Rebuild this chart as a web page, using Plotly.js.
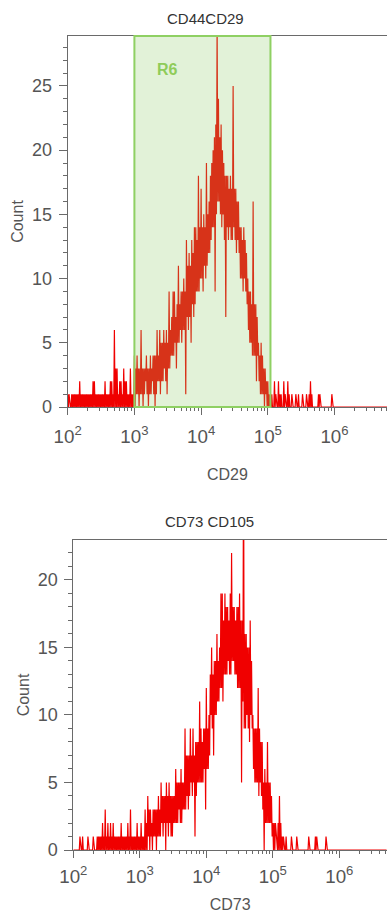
<!DOCTYPE html>
<html>
<head>
<meta charset="utf-8">
<script src="https://cdn.plot.ly/plotly-3.0.1.min.js"></script>
<style>
  html, body { margin: 0; padding: 0; background: #ffffff; }
  #chart { width: 387px; height: 913px; }
</style>
</head>
<body>
<div id="chart"></div>
<script>
// ---- channel grid (log10 decades) ----
const LOG_START = 2.0;      // first channel at 10^2
const LOG_STEP = 0.02;      // decades per channel

// ---- CD29 histogram (top panel): highest / lowest count seen in each channel ----
const cd29Max = [
  1,1,0,1,1,1,1,1,1,2,   1,1,1,1,1,1,1,1,1,2,   2,1,1,1,1,1,1,1,2,1,   1,1,2,2,1,6,3,3,1,2,
  2,1,3,2,2,1,1,3,1,1,   4,3,4,3,3,6,3,3,3,4,   3,3,4,3,4,4,4,6,4,6,   5,5,6,5,6,5,9,6,7,9,
  9,7,8,11,8,9,9,10,9,13, 11,12,11,13,12,14,14,13,18,14, 17,14,15,14,19,15,16,18,19,20,
  21,22,30,24,21,22,20,19,18,18, 18,17,18,17,25,17,17,16,16,14, 14,13,14,13,12,10,9,9,8,16,
  8,8,7,5,4,5,4,3,3,2,   2,1,1,1,0,2,1,0,2,1,   1,0,2,1,0,2,1,0,1,0,   0,1,0,1,0,0,1,0,0,1,
  0,1,2,1,0,0,0,0,1,1,   0,0,0,0,0,0,0,0,1,0,   0,0,0,0,0,0,0,0,0,0,   0,0,0,0,0,0,0,0,0,0,
  0,0,0,0,0,0,0,0,0,0,   0,0,0,0,0,0,0,0,0,0
];
const cd29Min = [
  0,0,0,0,0,0,0,0,0,0,   0,0,0,0,0,0,0,0,0,0,   0,0,0,0,0,0,0,0,0,0,   0,0,0,0,0,0,0,0,0,0,
  0,0,0,0,0,0,0,0,0,0,   0,1,1,0,1,1,0,1,2,1,   0,1,1,2,1,0,1,2,2,1,   2,2,3,2,1,3,3,4,4,4,
  5,3,5,5,6,5,6,6,1,7,   6,7,5,8,7,8,9,9,9,10,  10,9,11,10,11,12,12,13,14,14,
  9,15,16,16,15,14,15,13,7,14, 13,14,13,13,14,13,12,13,12,10, 10,9,10,9,8,6,5,5,4,4,
  4,2,4,2,1,1,1,0,1,0,   0,0,0,0,0,0,0,0,0,0,   0,0,0,0,0,0,0,0,0,0,   0,0,0,0,0,0,0,0,0,0,
  0,0,0,0,0,0,0,0,0,0,   0,0,0,0,0,0,0,0,0,0,   0,0,0,0,0,0,0,0,0,0,   0,0,0,0,0,0,0,0,0,0,
  0,0,0,0,0,0,0,0,0,0,   0,0,0,0,0,0,0,0,0,0
];

// ---- CD73 histogram (bottom panel): highest / lowest count seen in each channel ----
const cd73Max = [
  0,0,0,0,0,1,0,1,0,0,   0,1,0,0,0,1,0,0,1,1,   1,1,2,1,3,1,2,1,2,1,   2,1,1,1,1,1,2,1,1,1,
  1,2,1,3,1,1,1,1,2,1,   1,2,1,1,3,2,4,3,3,2,   3,3,3,3,4,3,5,4,4,4,   5,4,5,4,4,4,4,6,5,5,
  5,6,5,5,9,7,7,7,9,7,   9,7,8,8,8,11,9,8,9,9,  12,9,10,13,15,13,14,14,16,14,
  15,19,19,17,19,18,18,17,19,22, 18,18,17,18,18,19,17,17,30,16, 16,15,15,17,14,10,9,9,9,12,
  9,8,8,5,6,5,8,5,5,4,   2,2,2,1,2,4,2,1,1,0,   1,0,0,0,1,0,0,0,1,0,   0,0,0,0,0,0,0,1,0,0,
  0,0,1,1,0,0,0,0,0,0,   1,0,0,0,0,0,0,0,0,0,   0,0,0,0,0,0,0,0,0,0,   0,0,0,0,0,0,0,0,0,0,
  0,0,0,0,0,0,0,0,0,0,   0,0,0,0,0,0
];
const cd73Min = [
  0,0,0,0,0,0,0,0,0,0,   0,0,0,0,0,0,0,0,0,0,   0,0,0,0,0,0,0,0,0,0,   0,0,0,0,0,0,0,0,0,0,
  0,0,0,0,0,0,0,0,0,0,   0,0,0,0,0,0,1,0,1,0,   1,1,0,1,1,1,2,1,2,0,   2,1,2,1,1,2,2,2,2,3,
  2,2,3,3,3,4,3,4,5,4,   5,1,4,5,5,5,5,5,6,3,   6,6,7,10,9,7,10,10,11,11,
  12,12,11,13,13,13,14,13,13,14, 14,13,13,12,12,12,5,11,9,9, 10,9,8,10,9,6,5,5,5,4,
  5,4,3,0,2,2,2,2,2,1,   0,0,1,0,0,0,0,0,0,0,   0,0,0,0,0,0,0,0,0,0,   0,0,0,0,0,0,0,0,0,0,
  0,0,0,0,0,0,0,0,0,0,   0,0,0,0,0,0,0,0,0,0,   0,0,0,0,0,0,0,0,0,0,   0,0,0,0,0,0,0,0,0,0,
  0,0,0,0,0,0,0,0,0,0,   0,0,0,0,0,0
];

// ---- labels ----
const titles = ["CD44CD29", "CD73 CD105"];
const xTitles = ["CD29", "CD73"];
const yTitle = "Count";
const gateName = "R6";
const gateRange = [1000, 109648];   // R6 gate limits on CD29

// each channel is drawn as its high value followed by its low value half a channel later
function channelTrace(maxArr, minArr) {
  const n = Math.min(maxArr.length, minArr.length);
  const x = [], y = [];
  for (let i = 0; i < n; i++) {
    x.push(Math.pow(10, LOG_START + i * LOG_STEP));         y.push(maxArr[i]);
    x.push(Math.pow(10, LOG_START + (i + 0.5) * LOG_STEP)); y.push(minArr[i]);
  }
  return { x: x, y: y };
}

const FONT = "Liberation Sans, Arial, sans-serif";
const AX = '#6a6a6a';
const TXT = '#555555';

const cd29Line = channelTrace(cd29Max, cd29Min);
const cd73Line = channelTrace(cd73Max, cd73Min);

const traces = [
  { type: 'scatter', mode: 'lines', x: cd29Line.x, y: cd29Line.y, name: 'CD29',
    xaxis: 'x', yaxis: 'y', line: { color: '#f00000', width: 1.2 }, hoverinfo: 'skip' },
  { type: 'scatter', mode: 'lines', x: cd73Line.x, y: cd73Line.y, name: 'CD73',
    xaxis: 'x2', yaxis: 'y2', line: { color: '#f00000', width: 1.2 }, hoverinfo: 'skip' }
];

function xAx(domain, range, anchor, title, standoff, lblStandoff) {
  return {
    domain: domain, anchor: anchor, type: 'log', range: range,
    dtick: 1, exponentformat: 'power',
    ticks: 'outside', ticklen: 7, tickwidth: 1, tickcolor: AX,
    minor: { ticks: 'outside', ticklen: 3, dtick: 'D1', tickcolor: AX, tickwidth: 1, showgrid: false },
    showline: true, linecolor: AX, linewidth: 1, mirror: true,
    showgrid: false, zeroline: false,
    tickfont: { family: FONT, size: 15, color: TXT },
    ticklabelstandoff: lblStandoff,
    title: { text: title, font: { family: FONT, size: 16, color: TXT }, standoff: standoff }
  };
}
function yAx(domain, range, anchor) {
  return {
    domain: domain, anchor: anchor, range: range,
    dtick: 5, ticks: 'outside', ticklen: 8, tickwidth: 1, tickcolor: AX,
    minor: { ticks: 'outside', ticklen: 4, dtick: 1, tickcolor: AX, tickwidth: 1, showgrid: false },
    showline: true, linecolor: AX, linewidth: 1,
    showgrid: false, zeroline: false,
    tickfont: { family: FONT, size: 18, color: TXT },
    ticklabelstandoff: 3,
    title: { text: yTitle, font: { family: FONT, size: 16, color: TXT }, standoff: 4 }
  };
}

const layout = {
  width: 387, height: 913,
  margin: { l: 0, r: 0, t: 0, b: 0 },
  paper_bgcolor: '#ffffff', plot_bgcolor: '#ffffff',
  showlegend: false,
  xaxis: xAx([67.7/387, 1], [2, 6.787], 'y', xTitles[0], 23, 6),
  yaxis: yAx([1 - 407/913, 1 - 36/913], [0, 28.89], 'x'),
  xaxis2: xAx([73.3/387, 1], [2, 6.717], 'y2', xTitles[1], 15, 3),
  yaxis2: yAx([1 - 850/913, 1 - 540/913], [0, 22.96], 'x2'),
  shapes: [{
    type: 'rect', xref: 'x', yref: 'y domain',
    x0: gateRange[0], x1: gateRange[1], y0: 0, y1: 1,
    fillcolor: 'rgba(140,205,100,0.25)',
    line: { color: '#8fd063', width: 2 },
    layer: 'above'
  }],
  annotations: [
    { text: '<b>' + gateName + '</b>', xref: 'x', yref: 'y', x: 3.49, y: 26.3,
      showarrow: false, font: { family: FONT, size: 16, color: '#8fcc5a' } },
    { text: titles[0], xref: 'paper', yref: 'paper', x: 205/387, y: 1 - 18/913,
      xanchor: 'center', yanchor: 'middle', showarrow: false,
      font: { family: FONT, size: 15, color: '#333333' } },
    { text: titles[1], xref: 'paper', yref: 'paper', x: 209/387, y: 1 - 521/913,
      xanchor: 'center', yanchor: 'middle', showarrow: false,
      font: { family: FONT, size: 15, color: '#333333' } }
  ]
};

Plotly.newPlot('chart', traces, layout, { staticPlot: true, displayModeBar: false });
</script>
</body>
</html>
